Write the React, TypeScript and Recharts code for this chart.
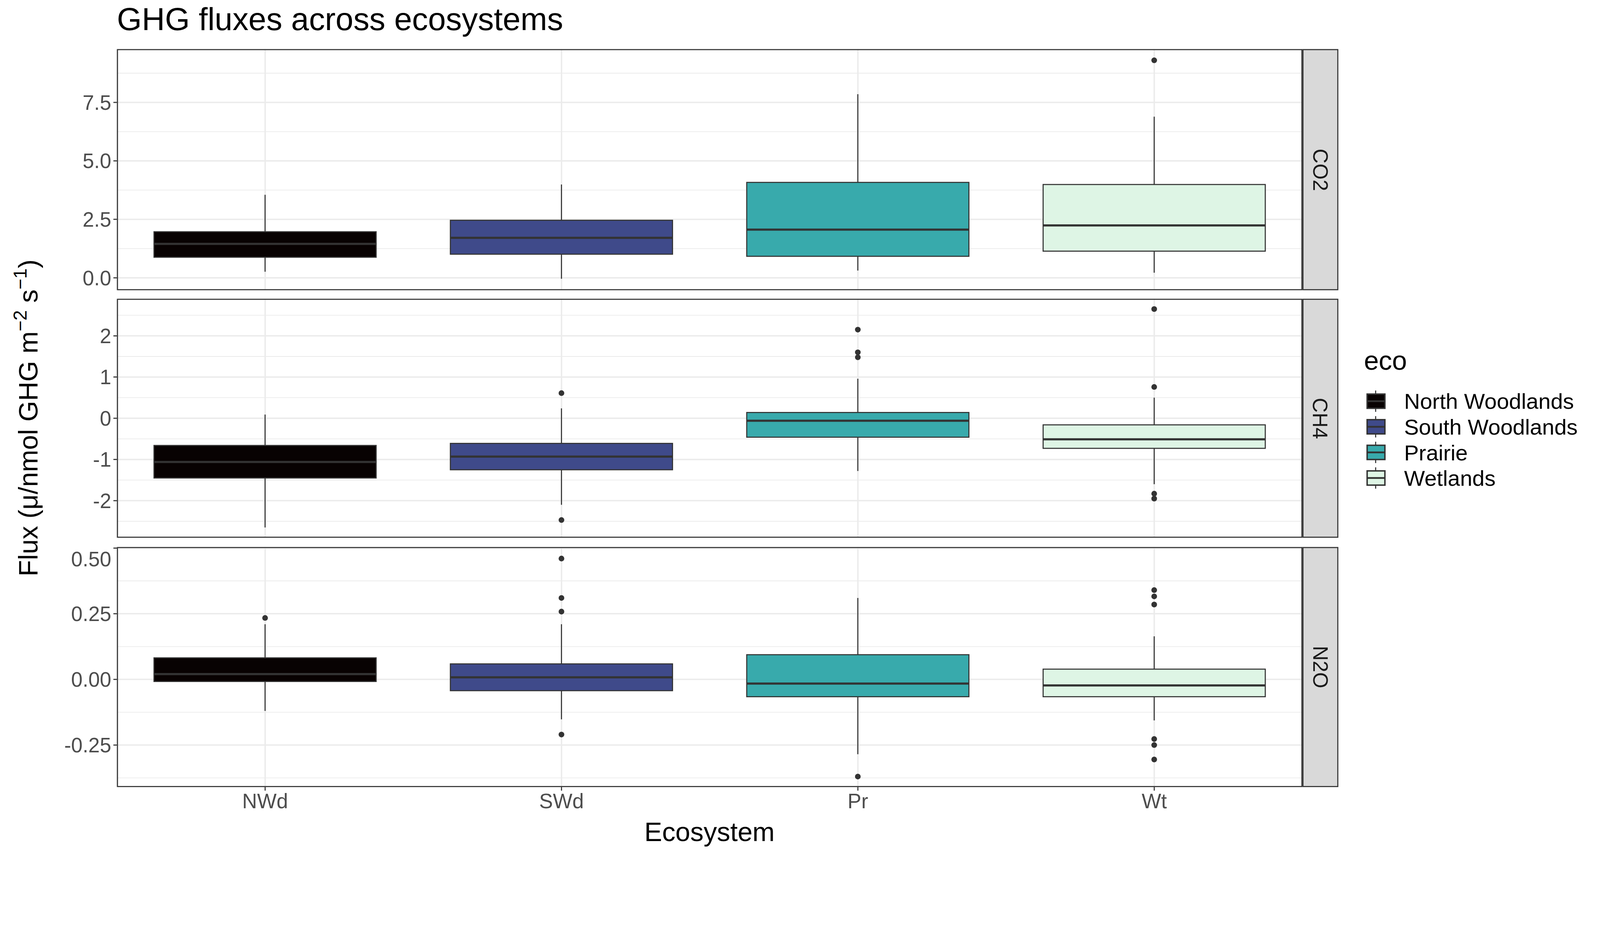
import React from 'react';
import { ComposedChart, Bar, XAxis, YAxis, CartesianGrid, Cell } from 'recharts';

const categories = ['NWd', 'SWd', 'Pr', 'Wt'];
const legendLabels = ['North Woodlands', 'South Woodlands', 'Prairie', 'Wetlands'];
const fills = ['#080202', '#3F4A8A', '#38AAAC', '#DEF5E5'];

// [low whisker, q1, median, q3, high whisker]
const co2Stats = [[0.26, 0.88, 1.45, 1.97, 3.55], [-0.04, 1.01, 1.71, 2.46, 3.99], [0.31, 0.92, 2.06, 4.08, 7.85], [0.22, 1.14, 2.24, 3.99, 6.89]];
const ch4Stats = [[-2.65, -1.45, -1.06, -0.66, 0.09], [-2.1, -1.25, -0.93, -0.61, 0.24], [-1.28, -0.46, -0.06, 0.14, 0.96], [-1.6, -0.73, -0.51, -0.16, 0.5]];
const n2oStats = [[-0.12, -0.008, 0.02, 0.082, 0.21], [-0.152, -0.043, 0.008, 0.059, 0.21], [-0.285, -0.066, -0.016, 0.094, 0.31], [-0.156, -0.066, -0.023, 0.039, 0.164]];

// outliers per category (NWd, SWd, Pr, Wt)
const co2Outliers = [[], [], [], [9.3]];
const ch4Outliers = [[], [0.61, -2.47], [2.15, 1.6, 1.48], [2.65, 0.76, -1.83, -1.95]];
const n2oOutliers = [[0.234], [0.46, 0.31, 0.258, -0.21], [-0.37], [0.34, 0.316, 0.285, -0.227, -0.25, -0.305]];

const co2Ticks = [0, 2.5, 5, 7.5];
const co2Minor = [1.25, 3.75, 6.25, 8.75];
const ch4Ticks = [-2, -1, 0, 1, 2];
const ch4Minor = [-2.5, -1.5, -0.5, 0.5, 1.5, 2.5];
const n2oTicks = [-0.25, 0, 0.25, 0.5];
const n2oMinor = [-0.375, -0.125, 0.125, 0.375];

const FONT = '"Liberation Sans", Arial, sans-serif';

const build = (stats: number[][], outs: number[][]) => stats.map((s, i) => ({ eco: categories[i], lo: s[0], q1: s[1], med: s[2], q3: s[3], hi: s[4], box: [s[1], s[3]], fill: fills[i], outs: outs[i] }));

const BoxShape = (props: any) => {
  const { x, y, width, height, payload } = props;
  const top = Math.min(y, y + height);
  const h = Math.abs(height);
  const k = h / (payload.q3 - payload.q1);
  const py = (v: number) => top + (payload.q3 - v) * k;
  const cx = x + width / 2;
  return (
    <g>
      <line x1={cx} x2={cx} y1={py(payload.hi)} y2={py(payload.q3)} stroke="#333" strokeWidth={3} />
      <line x1={cx} x2={cx} y1={py(payload.q1)} y2={py(payload.lo)} stroke="#333" strokeWidth={3} />
      <rect x={x} y={top} width={width} height={h} fill={payload.fill} stroke="#333" strokeWidth={3} />
      <line x1={x} x2={x + width} y1={py(payload.med)} y2={py(payload.med)} stroke="#333" strokeWidth={6} />
      {payload.outs.map((v: number, j: number) => <circle key={j} cx={cx} cy={py(v)} r={8} fill="#333" />)}
    </g>
  );
};

const PLOT_L = 329;
const PLOT_R = 3664;
const YW = 150;

function Panel({ top, height, stats, outliers, domain, ticks, minor, fmt, strip, showX }: any) {
  const data = build(stats, outliers);
  const xh = showX ? 100 : 0;
  return (
    <div style={{ position: 'absolute', left: 0, top }}>
      <ComposedChart width={PLOT_R} height={height + xh} data={data} margin={{ top: 0, right: 0, bottom: 0, left: PLOT_L - YW }} barCategoryGap="12.5%">
        <CartesianGrid horizontalValues={minor} vertical={false} stroke="#EBEBEB" strokeWidth={2} />
        <CartesianGrid horizontalValues={ticks} stroke="#EBEBEB" strokeWidth={4} />
        <XAxis dataKey="eco" hide={!showX} height={xh} axisLine={false} tickSize={10} tickLine={{ stroke: '#333', strokeWidth: 3 }} tick={{ fill: '#4D4D4D', fontSize: 58, fontFamily: FONT }} tickMargin={8} />
        <YAxis type="number" width={YW} domain={domain} allowDataOverflow ticks={ticks} tickFormatter={fmt} axisLine={false} tickSize={10} tickLine={{ stroke: '#333', strokeWidth: 3 }} tick={{ fill: '#4D4D4D', fontSize: 58, fontFamily: FONT }} tickMargin={6} />
        <Bar dataKey="box" shape={BoxShape} isAnimationActive={false}>
          {data.map((d, i) => <Cell key={i} fill={d.fill} />)}
        </Bar>
      </ComposedChart>
      <div style={{ position: 'absolute', left: PLOT_L, top: 0, width: PLOT_R - PLOT_L, height, border: '3px solid #333', boxSizing: 'border-box', pointerEvents: 'none' }} />
      <div style={{ position: 'absolute', left: PLOT_R, top: 0, width: 101, height, background: '#D9D9D9', border: '3px solid #333', boxSizing: 'border-box', display: 'flex', alignItems: 'center', justifyContent: 'center' }}>
        <div style={{ transform: 'rotate(90deg)', fontFamily: FONT, fontSize: 58, color: '#1A1A1A', whiteSpace: 'nowrap' }}>{strip}</div>
      </div>
    </div>
  );
}

export default function App() {
  return (
    <div style={{ position: 'absolute', left: 0, top: 0, width: 4500, height: 2400, background: '#fff', fontFamily: FONT, transform: 'scale(0.91)', transformOrigin: '0 0' }}>
      <Panel top={138} height={678} stats={co2Stats} outliers={co2Outliers} domain={[-0.53, 9.78]} ticks={co2Ticks} minor={co2Minor} fmt={(v: number) => v.toFixed(1)} strip="CO2" />
      <Panel top={840} height={672} stats={ch4Stats} outliers={ch4Outliers} domain={[-2.9, 2.9]} ticks={ch4Ticks} minor={ch4Minor} fmt={(v: number) => String(v)} strip="CH4" />
      <Panel top={1538} height={675} stats={n2oStats} outliers={n2oOutliers} domain={[-0.41, 0.504]} ticks={n2oTicks} minor={n2oMinor} fmt={(v: number) => v.toFixed(2)} strip="N2O" showX />
      <svg width={4500} height={2400} style={{ position: 'absolute', left: 0, top: 0, pointerEvents: 'none' }}>
        <text x={329} y={85} fontSize={90} fontFamily={FONT} fill="#000">GHG fluxes across ecosystems</text>
        <text x={1996} y={2365} fontSize={75} fontFamily={FONT} fill="#000" textAnchor="middle">Ecosystem</text>
        <text transform="translate(105,1175) rotate(-90)" fontSize={75} fontFamily={FONT} fill="#000" textAnchor="middle">
          Flux (μ/nmol GHG m<tspan dy={-30} fontSize={52}>−2</tspan><tspan dy={30}> s</tspan><tspan dy={-30} fontSize={52}>−1</tspan><tspan dy={30}>)</tspan>
        </text>
        <text x={3837} y={1040} fontSize={75} fontFamily={FONT} fill="#000">eco</text>
        {legendLabels.map((l, i) => {
          const cy = 1128 + i * 72;
          return (
            <g key={l}>
              <line x1={3870} x2={3870} y1={cy - 30} y2={cy + 30} stroke="#333" strokeWidth={3} />
              <rect x={3846} y={cy - 20} width={50} height={40} fill={fills[i]} stroke="#333" strokeWidth={4} />
              <line x1={3846} x2={3896} y1={cy} y2={cy} stroke="#333" strokeWidth={5} />
              <text x={3950} y={cy + 22} fontSize={62} fontFamily={FONT} fill="#000">{l}</text>
            </g>
          );
        })}
      </svg>
    </div>
  );
}
